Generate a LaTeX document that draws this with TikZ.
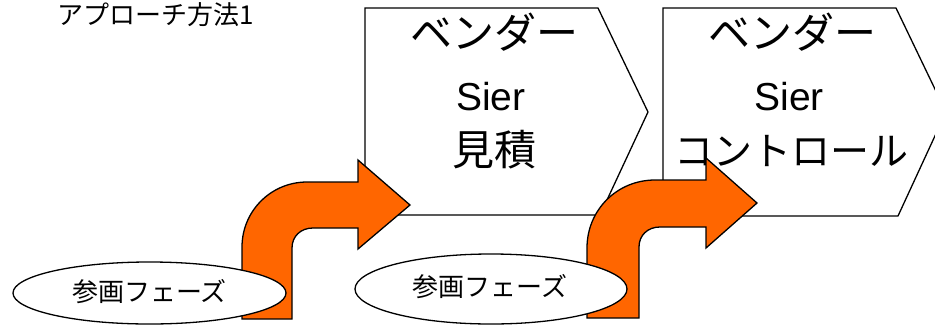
\documentclass[tikz,border=0pt]{standalone}
\usepackage{fontspec}
\setmainfont{Liberation Sans}
\newfontfamily\cjk{Noto Sans CJK JP}
\usetikzlibrary{shapes.geometric}
\definecolor{arroworange}{RGB}{255,102,0}
\tikzset{
  shapeline/.style={draw=black, line width=1.3pt, line join=miter},
  chevronbox/.style={shapeline, fill=white},
  bentarrow/.style={shapeline, fill=arroworange},
  phase/.style={shapeline, fill=white, ellipse, inner sep=0pt},
  bigjp/.style={inner sep=0pt, anchor=base, font=\cjk\fontsize{42}{48}\selectfont},
  bigjpnarrow/.style={inner sep=0pt, anchor=base, font=\cjk\fontsize{39}{45}\selectfont},
  biglat/.style={inner sep=0pt, anchor=base, font=\fontsize{39}{45}\selectfont},
  smalljp/.style={inner sep=0pt, anchor=base, font=\cjk\fontsize{26}{30}\selectfont}
}
\begin{document}
\begin{tikzpicture}[x=1pt,y=-1pt]
\useasboundingbox (0,0) rectangle (935,325);
\clip (0,0) rectangle (935,325);
\fill[white] (0,0) rectangle (935,325);

% chevrons
\path[chevronbox] (365,8) -- (598,8) -- (648,112) -- (600,215) -- (365,215) -- cycle;
\path[chevronbox] (663,8) -- (896,8) -- (946,112) -- (898,216) -- (663,216) -- cycle;

\node[bigjp] (c1a) at (494,48.6) {ベンダー};
\node[biglat] (c1b) at (491,110) {Sier};
\node[bigjp] (c1c) at (494,165) {見積};

\node[bigjp] (c2a) at (792,48.6) {ベンダー};
\node[biglat] (c2b) at (789,110) {Sier};
\node[bigjpnarrow] (c2c) at (791,165) {コントロール};

% bent arrows
\path[bentarrow] (242,319) -- (242,247) .. controls (242,211) and (271,182) .. (307,182)
  -- (358,182) -- (358,160) -- (410,205) -- (358,249) -- (358,228) -- (313,228)
  .. controls (301,228) and (292,236) .. (292,248) -- (292,319) -- cycle;
\path[bentarrow] (587,318) -- (587,248) .. controls (587,210) and (617,180) .. (655,180)
  -- (706,180) -- (706,158) -- (757,203) -- (706,248) -- (706,227) -- (660,227)
  .. controls (648,227) and (639,235) .. (639,247) -- (639,318) -- cycle;

% phase ellipses
\node[phase, minimum width=273pt, minimum height=62pt] (p1) at (149.5,293) {};
\node[phase, minimum width=272pt, minimum height=70pt] (p2) at (491,289) {};
\node[smalljp] (p1t) at (149.5,301) {参画フェーズ};
\node[smalljp] (p2t) at (490,296) {参画フェーズ};

% title
\node[smalljp, anchor=base west] (title) at (57,24) {アプローチ方法1};
\end{tikzpicture}
\end{document}
